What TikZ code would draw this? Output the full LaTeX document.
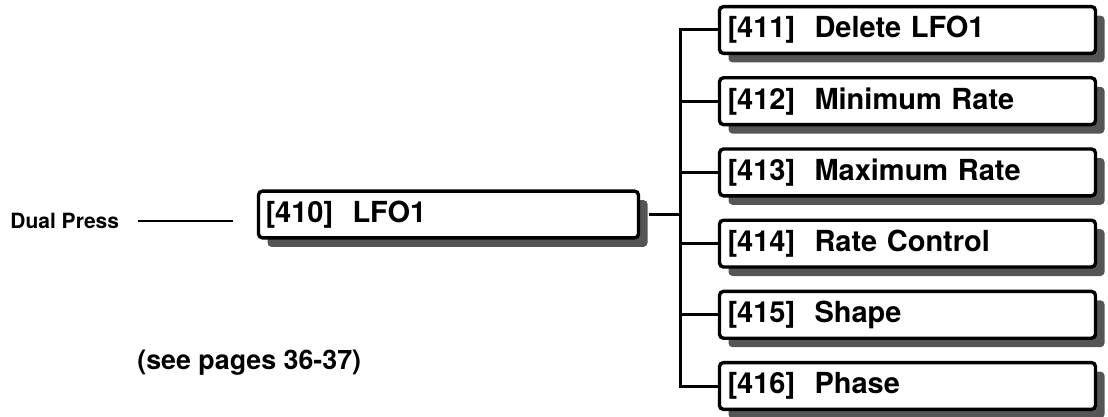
\documentclass[tikz,border=0pt]{standalone}
\usepackage{fontspec}
\setmainfont{TeX Gyre Heros}
\usetikzlibrary{positioning,shadows}
\definecolor{menuink}{HTML}{000000}
\definecolor{menushade}{HTML}{555555}

\begin{document}
\begin{tikzpicture}[
  font=\bfseries\fontsize{14.5}{17}\selectfont,
  node distance=10.5pt,
  menu/.style={draw=menuink,fill=white,line width=1.7pt,rounded corners=2pt,
               align=left,text width=180pt,inner xsep=4pt,inner ysep=2pt,minimum height=23.4pt,
               drop shadow={shadow xshift=4.5pt,shadow yshift=-4.5pt,fill=menushade,opacity=1}},
  note/.style={inner sep=0pt,anchor=west},
  link/.style={menuink,line width=1.5pt}
]
\useasboundingbox (0,0) rectangle (554pt,-208.5pt);

\node[menu,text width=183pt,inner xsep=3.5pt] (m410) at (224.25pt,-107.25pt) {[410]~~LFO1};

\node[menu] (m411) at (453.75pt,-15pt) {[411]~~Delete LFO1};
\node[menu,below=of m411] (m412) {[412]~~Minimum Rate};
\node[menu,below=of m412] (m413) {[413]~~Maximum Rate};
\node[menu,below=of m413] (m414) {[414]~~Rate Control};
\node[menu,below=of m414] (m415) {[415]~~Shape};
\node[menu,below=of m415] (m416) {[416]~~Phase};

\node[note,font=\bfseries\fontsize{10.5}{12}\selectfont] (dual) at (5pt,-110.5pt) {Dual Press};
\node[note,font=\bfseries\fontsize{13.4}{16}\selectfont] (pages) at (68.5pt,-181.5pt) {(see pages 36-37)};

\coordinate (bus) at (340pt,0pt);

\draw[menuink,line width=1pt] ([xshift=9.5pt]dual.east) -- ([xshift=-12pt]dual.east -| m410.west);
\draw[link,shorten <=4.5pt] (m410.east) -- (m410.east -| bus);
\draw[link] (m411.west) -- (m411.west -| bus) -- (m416.west -| bus) -- (m416.west);
\foreach \m in {m412,m413,m414,m415}
  \draw[link] (\m.west -| bus) -- (\m.west);
\end{tikzpicture}
\end{document}
